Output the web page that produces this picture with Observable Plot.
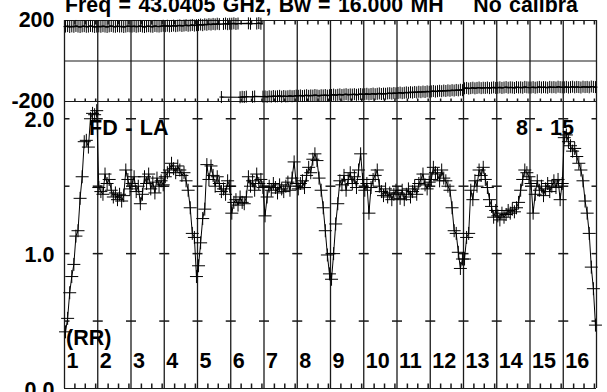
<!DOCTYPE html>
<html><head><meta charset="utf-8">
<script src="https://cdn.jsdelivr.net/npm/d3@7"></script>
<script src="https://cdn.jsdelivr.net/npm/@observablehq/plot@0.6"></script>
<style>
html,body{margin:0;padding:0;background:#fff;}
#chart{position:relative;width:607px;height:392px;overflow:hidden;background:#fff;}
#chart svg{position:absolute;left:0;overflow:visible;}
#chart text{white-space:pre;word-spacing:1.5px;}
</style></head><body><div id="chart"></div>
<script>
// ---- data ----
const titleText = "Freq = 43.0405 GHz, Bw = 16.000 MH    No calibra";
const baselineLabel = "FD - LA";
const timeLabel = "8 - 15";
const polLabel = "(RR)";
const ifLabels = ["1","2","3","4","5","6","7","8","9","10","11","12","13","14","15","16"];
const channelsPerIF = 16;
const channelTicks = [5, 10, 15];
const phaseTicks = [200, -200];
const phaseTickLabels = ["200", "-200"];
const ampTicks = [0.5, 1.0, 1.5, 2.0];
const ampLabelVals = [2.0, 1.0, 0.0];
const ampLabels = ["2.0", "1.0", "0.0"];

// amplitude per IF (16 channels each)
const ampByIF = [
  [0.42,0.52,0.71,0.83,0.92,1.13,1.17,1.41,1.57,1.83,1.84,1.79,2.00,2.04,2.03,2.06],
  [1.49,1.46,1.44,1.59,1.52,1.55,1.47,1.42,1.45,1.40,1.44,1.39,1.43,1.62,1.55,1.48],
  [1.52,1.57,1.46,1.50,1.37,1.44,1.57,1.52,1.59,1.48,1.53,1.45,1.56,1.50,1.54,1.51],
  [1.57,1.60,1.62,1.67,1.63,1.60,1.65,1.62,1.58,1.60,1.54,1.47,1.34,1.15,1.12,0.83],
  [0.91,1.08,1.26,1.33,1.66,1.55,1.65,1.58,1.50,1.57,1.52,1.46,1.48,1.44,1.54,1.50],
  [1.30,1.38,1.40,1.36,1.42,1.38,1.37,1.42,1.57,1.50,1.54,1.47,1.59,1.52,1.55,1.49],
  [1.28,1.42,1.50,1.47,1.52,1.49,1.45,1.51,1.48,1.46,1.50,1.53,1.47,1.56,1.68,1.52],
  [1.48,1.52,1.54,1.49,1.58,1.64,1.60,1.70,1.74,1.69,1.56,1.47,1.34,1.17,0.99,0.85],
  [0.81,1.00,1.22,1.37,1.54,1.51,1.58,1.47,1.55,1.60,1.52,1.57,1.49,1.62,1.74,1.55],
  [1.47,1.52,1.30,1.49,1.55,1.58,1.62,1.50,1.46,1.43,1.48,1.42,1.45,1.40,1.44,1.47],
  [1.45,1.41,1.47,1.40,1.44,1.48,1.42,1.46,1.50,1.44,1.52,1.55,1.59,1.51,1.48,1.53],
  [1.55,1.64,1.60,1.59,1.54,1.62,1.56,1.54,1.50,1.47,1.34,1.17,1.15,1.01,0.89,0.96],
  [0.96,1.12,1.15,1.47,1.40,1.54,1.50,1.62,1.58,1.64,1.55,1.49,1.40,1.35,1.27,1.32],
  [1.28,1.25,1.30,1.27,1.29,1.32,1.30,1.33,1.31,1.34,1.38,1.47,1.55,1.62,1.60,1.57],
  [1.52,1.30,1.44,1.54,1.47,1.50,1.43,1.48,1.52,1.46,1.50,1.54,1.49,1.55,1.40,1.52],
  [1.86,1.88,1.83,1.80,1.76,1.78,1.72,1.67,1.62,1.54,1.39,1.30,1.15,0.90,0.74,0.47]
];

// phase (degrees) per IF
const phaseByIF = [
  [170,172,168,171,169,173,170,168,171,172,169,170,173,171,168,170],
  [171,169,172,170,168,171,173,170,169,172,170,171,168,170,172,171],
  [170,172,169,171,173,170,168,171,172,170,169,173,171,170,172,174],
  [172,174,171,173,175,172,174,176,173,175,177,174,176,178,175,177],
  [178,180,177,181,179,182,180,183,181,184,182,-178,183,185,182,184],
  [184,186,183,185,-179,-177,-178,-176,186,184,-177,-175,185,187,184,-176],
  [-175,-177,-174,-176,-173,-175,-174,-172,-176,-173,-175,-174,-172,-174,-173,-171],
  [-172,-170,-173,-171,-169,-172,-170,-171,-168,-170,-172,-169,-170,-168,-171,-169],
  [-168,-166,-169,-167,-165,-168,-166,-164,-167,-165,-166,-164,-167,-165,-163,-165],
  [-164,-162,-165,-163,-161,-164,-162,-160,-163,-161,-162,-160,-159,-161,-158,-160],
  [-158,-156,-159,-157,-155,-157,-154,-156,-153,-155,-152,-154,-151,-153,-150,-152],
  [-150,-148,-151,-149,-147,-149,-146,-148,-145,-147,-144,-146,-143,-145,-142,-144],
  [-135,-133,-136,-134,-132,-135,-133,-131,-134,-132,-133,-131,-134,-132,-130,-133],
  [-132,-130,-133,-131,-129,-132,-130,-131,-133,-129,-131,-130,-132,-128,-130,-131],
  [-131,-129,-132,-130,-128,-131,-129,-130,-132,-128,-130,-129,-131,-127,-129,-130],
  [-130,-128,-131,-129,-127,-130,-128,-129,-131,-127,-129,-128,-130,-126,-128,-129]
];

// ---- derived tables ----
const nIF = ifLabels.length;
const amp = ampByIF.flatMap((row, i) => row.map((v, c) => ({ch: i * channelsPerIF + c + 0.5, v})));
const phase = phaseByIF.flatMap((row, i) => row.map((v, c) => ({ch: i * channelsPerIF + c + 0.5, v})));
const boundaries = d3.range(nIF + 1).map(i => i * channelsPerIF);
const minorTicks = d3.range(nIF).flatMap(i => channelTicks.map(t => i * channelsPerIF + t));
const gridCrosses = boundaries.flatMap(b => ampTicks.map(a => ({b, a})));

// ---- symbols ----
const cross = {draw(c){c.moveTo(-6.5,0);c.lineTo(6.5,0);c.moveTo(0,-6.5);c.lineTo(0,6.5);}};
const vbar = {draw(c){c.moveTo(-2,0);c.lineTo(2,0);c.moveTo(0,-6);c.lineTo(0,6);}};
const hdash = {draw(c){c.moveTo(-5,0);c.lineTo(5,0);}};
const tickUp5 = {draw(c){c.moveTo(0,0);c.lineTo(0,-5);}};
const tickUp3 = {draw(c){c.moveTo(0,0);c.lineTo(0,-3);}};
const tickDown = {draw(c){c.moveTo(0,0);c.lineTo(0,4);}};

const font = {fontFamily: "Liberation Sans, Arial, sans-serif", fontWeight: "bold", fontSize: 21.5, fill: "black"};
const ink = "#1a1a1a";
const W = 607, ML = 64, MR = 11;
const xScale = {domain: [0, nIF * channelsPerIF]};
const sty = {background: "transparent", overflow: "visible"};

const phasePlot = Plot.plot({
  width: W, height: 101,
  marginLeft: ML, marginRight: MR, marginTop: 20, marginBottom: 0,
  x: {...xScale, axis: null},
  y: {domain: [-200, 200], axis: null},
  style: sty,
  marks: [
    Plot.ruleY([200, 0, -200], {stroke: ink, strokeWidth: 1.2}),
    Plot.ruleX(boundaries, {stroke: ink, strokeWidth: 1.3}),
    Plot.dot(minorTicks, {x: d => d, frameAnchor: "top", symbol: tickDown, stroke: ink, fill: "none"}),
    Plot.dot(minorTicks, {x: d => d, frameAnchor: "bottom", symbol: tickUp3, stroke: ink, fill: "none"}),
    Plot.text(phaseTicks, {y: d => d, text: (d, i) => phaseTickLabels[i], frameAnchor: "left", textAnchor: "end", lineAnchor: "middle", dx: -10, ...font}),
    Plot.text([titleText], {text: d => d, frameAnchor: "top-left", textAnchor: "start", lineAnchor: "bottom", dx: 0.5, dy: -8.5, ...font, fontSize: 21.3}),
    Plot.line(phase, {x: "ch", y: "v", z: d => d.v > 0, stroke: "black", strokeWidth: 1.2}),
    Plot.dot(phase, {x: "ch", y: "v", symbol: vbar, stroke: "black", fill: "none", strokeWidth: 1})
  ]
});
phasePlot.style.top = "0px";

const ampPlot = Plot.plot({
  width: W, height: 291,
  marginLeft: ML, marginRight: MR, marginTop: 0, marginBottom: 4,
  x: {...xScale, axis: null},
  y: {domain: [0, 2.128], axis: null},
  style: sty,
  marks: [
    Plot.ruleY([0], {stroke: ink, strokeWidth: 1.2}),
    Plot.ruleX(boundaries, {stroke: ink, strokeWidth: 1.3}),
    Plot.dot(gridCrosses, {x: "b", y: "a", symbol: hdash, stroke: ink, fill: "none", clip: true}),
    Plot.dot(minorTicks, {x: d => d, frameAnchor: "bottom", symbol: tickUp5, stroke: ink, fill: "none"}),
    Plot.text(ampLabelVals, {y: d => d, text: (d, i) => ampLabels[i], frameAnchor: "left", textAnchor: "end", lineAnchor: "middle", dx: -10, dy: 1.2, ...font}),
    Plot.text(ifLabels, {x: (d, i) => boundaries[i], text: d => d, frameAnchor: "bottom", textAnchor: "start", lineAnchor: "bottom", dx: 2, dy: -21, ...font}),
    Plot.text([polLabel], {text: d => d, frameAnchor: "bottom-left", textAnchor: "start", lineAnchor: "bottom", dx: 1.5, dy: -44, ...font}),
    Plot.text([baselineLabel], {text: d => d, frameAnchor: "top-left", textAnchor: "start", lineAnchor: "bottom", dx: 24.5, dy: 33, ...font}),
    Plot.text([timeLabel], {text: d => d, frameAnchor: "top-right", textAnchor: "end", lineAnchor: "bottom", dx: -22.5, dy: 33, ...font}),
    Plot.line(amp, {x: "ch", y: "v", stroke: "black", strokeWidth: 1}),
    Plot.dot(amp, {x: "ch", y: "v", symbol: cross, stroke: "black", fill: "none", strokeWidth: 1})
  ]
});
ampPlot.style.top = "101px";

const chart = document.getElementById("chart");
chart.appendChild(phasePlot);
chart.appendChild(ampPlot);
</script>
</body></html>
